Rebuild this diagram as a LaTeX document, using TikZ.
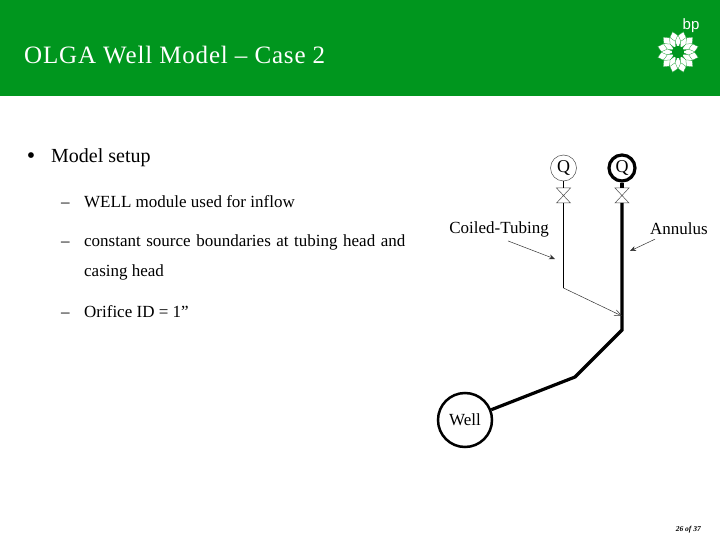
\documentclass[tikz,border=0pt]{standalone}
\usepackage{fontspec}
\usetikzlibrary{arrows.meta}
\setmainfont{Liberation Serif}
\newfontfamily\logofont{Liberation Sans}
\newfontfamily\titlefont[LetterSpace=3.3]{Liberation Serif}
\newfontfamily\widefont[WordSpace=1.3]{Liberation Serif}
\definecolor{bpgreen}{RGB}{0,150,30}
\tikzstyle{slidetext}=[anchor=base west,inner sep=0pt,black,font=\fontsize{17}{20}\selectfont]
\tikzstyle{bigtext}=[anchor=base west,inner sep=0pt,black,font=\fontsize{20}{24}\selectfont]
\tikzstyle{source}=[circle,draw,minimum size=26pt,inner sep=0pt,font=\fontsize{18}{20}\selectfont]
\tikzstyle{label}=[inner sep=0pt,font=\fontsize{17}{20}\selectfont]
\tikzstyle{valve}=[draw=black!70,line width=0.5pt]
\tikzstyle{thin}=[line width=0.8pt]
\tikzstyle{thick}=[line width=3.2pt]
\tikzstyle{pointer}=[line width=0.5pt,black!80,-{Stealth[length=6pt,width=5pt]}]
\tikzstyle{petal}=[fill=white,draw=bpgreen,line width=0.25pt]

\begin{document}
\begin{tikzpicture}[x=1pt,y=-1pt]
\useasboundingbox (0,0) rectangle (720,540);
\fill[bpgreen] (0,0) rectangle (720,96);
% header
\node[anchor=base west,inner sep=0pt,white,font=\titlefont\fontsize{25}{28}\selectfont] (title) at (24,64) {OLGA Well Model – Case 2};
\node[inner sep=0pt,white,font=\logofont\fontsize{15}{15}\selectfont] (bp) at (691,26) {bp};
% logo
\foreach \a in {0,30,...,330} {
  \draw[petal,rotate around={\a+15:(678,52)}] (678,52) ++(0,-9) -- ++(5,-6) -- ++(-5,-6) -- ++(-5,6) -- cycle;
}
\foreach \a in {0,30,...,330} {
  \draw[petal,rotate around={\a:(678,52)}] (678,52) ++(0,-4) -- ++(3,-6.5) -- ++(-3,-6.5) -- ++(-3,6.5) -- cycle;
}
\fill[bpgreen] (678,52) circle (6);
% text
\node[inner sep=0pt,font=\fontsize{24}{24}\selectfont] (dot) at (31,158) {\textbullet};
\node[bigtext] (setup) at (51,162.5) {Model setup};
\node[slidetext] at (61,207.5) {--};
\node[slidetext] (inflow) at (84,207.5) {WELL module used for inflow};
\node[slidetext] at (61,247) {--};
\node[slidetext,font=\widefont\fontsize{17}{20}\selectfont] (bound) at (84,247) {constant source boundaries at tubing head and};
\node[slidetext] (casing) at (84,276) {casing head};
\node[slidetext] at (61,317) {--};
\node[slidetext] (orifice) at (84,317) {Orifice ID = 1''};
% diagram
\node[source,draw=black!70,line width=0.5pt] (q1) at (563.5,168) {Q};
\node[source,line width=3.2pt] (q2) at (622,168) {Q};
\node[circle,draw,line width=2.5pt,minimum size=54pt,inner sep=0pt,font=\fontsize{17}{20}\selectfont] (well) at (465,420) {Well};
\node[label] (coiled) at (499,229) {Coiled-Tubing};
\node[label] (annulus) at (679,229) {Annulus};
\coordinate (v1top) at (563.5,188);
\coordinate (v1bot) at (563.5,203);
\coordinate (v2top) at (622,188);
\coordinate (v2bot) at (622,203);
\coordinate (tube) at (563.5,288);
\coordinate (shoe) at (622,316);
\coordinate (kick) at (622,330);
\coordinate (bend) at (575,377);
\coordinate (c1) at (555,259);
\coordinate (c2) at (630,251);
\draw[valve] (556.5,188) -- (570.5,203) -- (556.5,203) -- (570.5,188) -- cycle;
\draw[valve] (615,188) -- (629,203) -- (615,203) -- (629,188) -- cycle;
\draw[thin] (q1) -- (v1top);
\draw[thin] (v1bot) -- (tube);
\draw[thick] (q2) -- (v2top);
\draw[thick] (v2bot) -- (kick) -- (bend) -- (well);
\draw[line width=0.5pt,black!80,-{Straight Barb[length=7pt,width=6pt]}] (tube) -- (shoe);
\draw[pointer] (coiled.south)++(9,4) -- (c1);
\draw[pointer] (annulus.south)++(-24,4) -- (c2);
\node[anchor=base east,inner sep=0pt,font=\fontsize{7.5}{8}\selectfont\itshape\bfseries] (page) at (701,531) {26 of 37};
\end{tikzpicture}
\end{document}
